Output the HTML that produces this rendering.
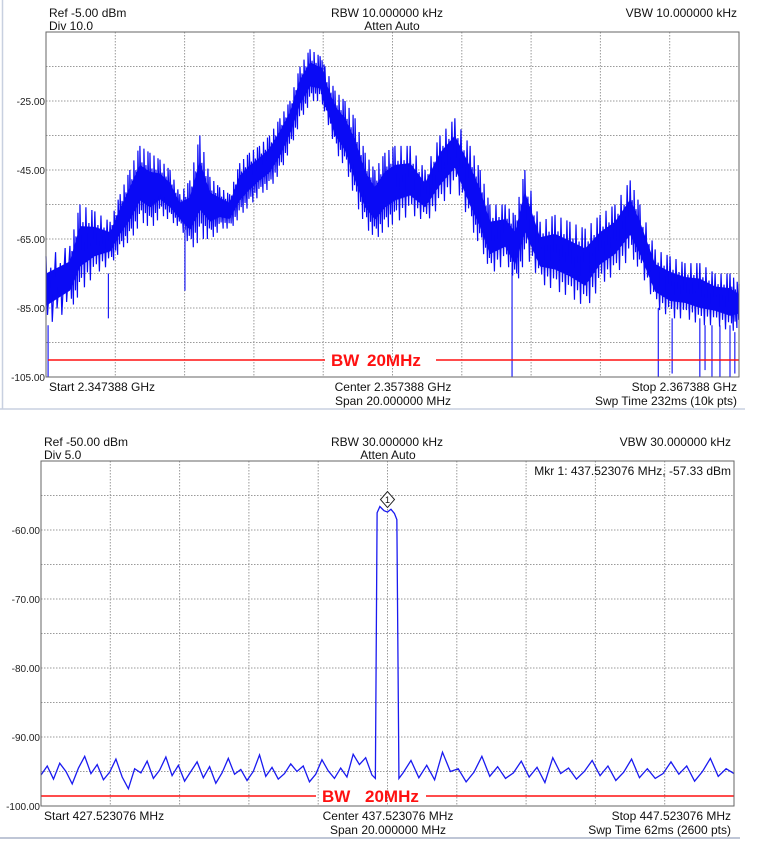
<!DOCTYPE html>
<html><head><meta charset="utf-8">
<style>
html,body{margin:0;padding:0;background:#fff;}
svg{display:block;font-family:"Liberation Sans",Arial,sans-serif;}
</style></head>
<body>
<svg id="root" width="759" height="844" viewBox="0 0 759 844">
  <line x1="2.5" y1="0" x2="2.5" y2="409" stroke="#c8d0e0" stroke-width="1.5"/>
  <line x1="0" y1="409" x2="745" y2="409" stroke="#c8d0e0" stroke-width="1.5"/>
  <line x1="0" y1="838" x2="740" y2="838" stroke="#aab4c8" stroke-width="1.5"/>
  <g id="top"></g>
  <g id="bot"></g>
</svg>
<script>
// ---- Top chart data (freq offset MHz from center, envelope dB) ----
const topFreq  = [-10,-9.31,-9.02,-8.59,-8.15,-7.86,-7.58,-7.29,-7.00,-6.71,-6.42,-6.14,-5.85,-5.56,-5.27,-4.99,-4.70,-4.41,-4.13,-3.84,-3.55,-3.25,-2.96,-2.67,-2.38,-2.09,-1.95,-1.66,-1.37,-1.08,-0.79,-0.51,-0.22,0.07,0.51,0.94,1.37,1.80,2.24,2.53,2.81,3.25,3.54,3.82,4.26,4.69,5.12,5.56,5.99,6.42,6.86,7.14,7.58,8.01,8.44,8.87,9.31,9.74,10];
const topUpper = [-70,-67,-55,-57,-60,-52,-45,-38,-40,-42,-45,-52,-48,-35,-47,-50,-52,-43,-40,-38,-35,-30,-25,-15,-10,-12,-15,-22,-25,-30,-40,-45,-40,-38,-38,-45,-35,-30,-38,-45,-55,-55,-58,-45,-60,-58,-60,-62,-58,-55,-48,-55,-68,-70,-72,-72,-75,-75,-78];
const topLower = [-90,-85,-80,-75,-72,-68,-65,-60,-62,-58,-60,-62,-68,-65,-65,-62,-62,-58,-55,-52,-50,-45,-38,-30,-25,-25,-30,-40,-45,-55,-62,-65,-62,-60,-58,-60,-55,-50,-62,-68,-75,-72,-78,-70,-78,-80,-82,-85,-78,-75,-70,-75,-85,-88,-88,-90,-90,-92,-90];
const topDipFreq = [-9.94,-8.2,-5.99,3.45,7.67,8.07,8.87,9.02,9.22,9.45,9.74,9.88];
const topDipVal  = [-105,-88,-80,-105,-105,-104,-105,-103,-105,-105,-105,-104];
const topYTicks = [-25,-45,-65,-85,-105];
const topYLabels = ["-25.00","-45.00","-65.00","-85.00","-105.00"];

// ---- Bottom chart data ----
const botNoiseFreq = [];
const botNoise = [-95.5,-94.2,-96.1,-93.8,-95.0,-96.8,-94.5,-92.8,-95.3,-94.0,-96.2,-95.1,-93.2,-95.8,-97.5,-94.6,-95.2,-93.5,-96.0,-94.8,-92.9,-95.6,-94.1,-96.4,-95.0,-93.6,-95.9,-94.3,-96.7,-95.2,-93.1,-95.4,-94.7,-96.3,-95.0,-92.6,-95.7,-94.4,-96.1,-95.3,-93.9,-95.0,-94.2,-96.5,-95.4,-93.3,-94.9,-96.0,-94.5,-95.8,-92.5,-94.0,-93.0,-95.5,
  -95.2,-93.4,-95.9,-94.1,-96.2,-92.2,-95.0,-94.6,-96.5,-95.1,-92.8,-95.7,-94.3,-96.0,-95.2,-93.5,-95.8,-94.4,-96.6,-93.0,-95.3,-94.5,-96.1,-95.0,-93.4,-95.6,-94.2,-96.3,-95.1,-93.2,-95.9,-94.6,-96.0,-95.3,-93.6,-95.4,-94.2,-96.4,-95.0,-93.1,-95.7,-94.6,-95.3];
const botPeakFreq = [-0.35,-0.3,-0.22,-0.1,0.0,0.1,0.2,0.27,0.33];
const botPeakVal  = [-96,-57.5,-56.6,-57.2,-57.4,-57.0,-57.6,-58.5,-96];
const botYTicks = [-60,-70,-80,-90,-100];
const botYLabels = ["-60.00","-70.00","-80.00","-90.00","-100.00"];
(function(){const nL=54,nR=botNoise.length-nL;for(let i=0;i<nL;i++)botNoiseFreq.push(-10+i*(9.55/(nL-1)));for(let i=0;i<nR;i++)botNoiseFreq.push(0.45+i*(9.55/(nR-1)));})();

const NS="http://www.w3.org/2000/svg";
function mk(parent,tag,attrs,text){const e=document.createElementNS(NS,tag);for(const k in attrs)e.setAttribute(k,attrs[k]);if(text!==undefined)e.textContent=text;parent.appendChild(e);return e;}

function frame(g,L,T,R,B,yTop,yBot,yTicks,yLabels){
  const sy=v=>T+(yTop-v)/(yTop-yBot)*(B-T);
  for(let i=1;i<10;i++){
    const y=T+i*(B-T)/10;
    const l=mk(g,'line',{x1:L,x2:R,y1:y,y2:y,stroke:'#9a9a9a','stroke-width':1,'stroke-dasharray':'1.5,1.5'});
    
    
    const x=L+i*(R-L)/10;
    const v=mk(g,'line',{x1:x,x2:x,y1:T,y2:B,stroke:'#9a9a9a','stroke-width':1,'stroke-dasharray':'1.5,1.5'});
    
    
  }
  yTicks.forEach((t,i)=>{
    const tx=mk(g,'text',{x:L-1,y:sy(t)+4,'font-size':10,'text-anchor':'end',fill:'#222'},yLabels[i]);
    
    
  });
  return sy;
}
function bwLabel(g,x1,x2,y){
  const a=mk(g,'text',{x:x1,y:y,'font-size':17,'font-weight':'bold',fill:'#ff1010'},'BW');
  
  const b=mk(g,'text',{x:x2,y:y,'font-size':17,'font-weight':'bold',fill:'#ff1010'},'20MHz');
  
}

// ---------- TOP ----------
(function(){
  const g=document.getElementById('top');
  const L=46,R=739,T=32,B=377;
  const sx=f=>L+(f+10)/20*(R-L);
  const sy=frame(g,L,T,R,B,-5,-105,topYTicks,topYLabels);
  const n=topFreq.length;
  let pts=[];
  for(let i=0;i<n;i++){const r=topLower[i]-topUpper[i];pts.push(sx(topFreq[i])+','+sy(topUpper[i]+r*0.25));}
  for(let i=n-1;i>=0;i--){const r=topLower[i]-topUpper[i];pts.push(sx(topFreq[i])+','+sy(topUpper[i]+r*0.72));}
  const band=mk(g,'polygon',{points:pts.join(' '),fill:'#0a0af5'});
  
  
  let z=[];const teeth=5;
  for(let i=0;i<n-1;i++){
    for(let k=0;k<teeth;k++){
      const t=k/teeth;const f=topFreq[i]+(topFreq[i+1]-topFreq[i])*t;
      const up=topUpper[i]+(topUpper[i+1]-topUpper[i])*t, lo=topLower[i]+(topLower[i+1]-topLower[i])*t;
      const r=lo-up;
      const hi=(k%2===0)?up:up+r*0.2, low=(k%2===0)?lo-r*0.15:lo;
      z.push(sx(f)+','+sy(hi));
      z.push((sx(f)+1.5)+','+sy(low));
    }
  }
  z.push(sx(topFreq[n-1])+','+sy(topUpper[n-1]));
  const zz=mk(g,'polyline',{points:z.join(' '),fill:'none',stroke:'#0a0af5','stroke-width':1.2});
  
  
  topDipFreq.forEach((f,i)=>{
    let j=0;while(j<n-1&&topFreq[j+1]<f)j++;
    const d=mk(g,'line',{x1:sx(f),x2:sx(f),y1:sy(topLower[j]),y2:sy(topDipVal[i]),stroke:'#0a0af5','stroke-width':1.1});
    
    
  });
  const rl=mk(g,'line',{x1:L+2,x2:325,y1:360,y2:360,stroke:'#ff1010','stroke-width':1.5});
  
  const rr=mk(g,'line',{x1:436,x2:R,y1:360,y2:360,stroke:'#ff1010','stroke-width':1.5});
  
  bwLabel(g,331,367,366);
  const fr=mk(g,'rect',{x:L,y:T,width:R-L,height:B-T,fill:'none',stroke:'#666','stroke-width':1});
  
  const labels=[[49,17,'start','Ref -5.00 dBm','ref-level'],[49,30,'start','Div 10.0','div-scale'],[387,17,'middle','RBW 10.000000 kHz','rbw'],[392,30,'middle','Atten Auto','atten'],[737,17,'end','VBW 10.000000 kHz','vbw'],
   [49,391,'start','Start 2.347388 GHz','start-freq'],[393,391,'middle','Center 2.357388 GHz','center-freq'],[393,405,'middle','Span 20.000000 MHz','span'],[737,391,'end','Stop 2.367388 GHz','stop-freq'],[737,405,'end','Swp Time 232ms (10k pts)','sweep-time']];
  labels.forEach(a=>{const t=mk(g,'text',{x:a[0],y:a[1],'text-anchor':a[2],'font-size':12,fill:'#111'},a[3]);});
})();

// ---------- BOTTOM ----------
(function(){
  const g=document.getElementById('bot');
  const L=41,R=734,T=461,B=806;
  const sx=f=>L+(f+10)/20*(R-L);
  const sy=frame(g,L,T,R,B,-50,-100,botYTicks,botYLabels);
  const nL=54;
  let a=[];for(let i=0;i<nL;i++)a.push({f:botNoiseFreq[i],v:botNoise[i]});
  botPeakFreq.forEach((f,i)=>a.push({f:f,v:botPeakVal[i]}));
  for(let i=nL;i<botNoise.length;i++)a.push({f:botNoiseFreq[i],v:botNoise[i]});
  const pl=mk(g,'polyline',{points:a.map(p=>sx(p.f)+','+sy(p.v)).join(' '),fill:'none',stroke:'#1a1af0','stroke-width':1.3});
  
  const rl=mk(g,'line',{x1:L,x2:316,y1:796,y2:796,stroke:'#ff1010','stroke-width':1.5});
  
  const rr=mk(g,'line',{x1:426,x2:R,y1:796,y2:796,stroke:'#ff1010','stroke-width':1.5});
  
  bwLabel(g,322,365,802);
  const fr=mk(g,'rect',{x:L,y:T,width:R-L,height:B-T,fill:'none',stroke:'#666','stroke-width':1});
  
  const mx=sx(0),my=sy(-56.6)-7;
  const mkr=mk(g,'polygon',{points:`${mx},${my-8} ${mx+7},${my} ${mx},${my+8} ${mx-7},${my}`,fill:'#fff',stroke:'#222','stroke-width':1});
  
  const mt=mk(g,'text',{x:mx,y:my+3.5,'text-anchor':'middle','font-size':9,fill:'#111'},'1');
  
  const labels=[[44,446,'start','Ref -50.00 dBm','ref-level'],[44,459,'start','Div 5.0','div-scale'],[387,446,'middle','RBW 30.000000 kHz','rbw'],[388,459,'middle','Atten Auto','atten'],[731,446,'end','VBW 30.000000 kHz','vbw'],
   [731,475,'end','Mkr 1: 437.523076 MHz, -57.33 dBm','marker-readout'],
   [44,820,'start','Start 427.523076 MHz','start-freq'],[388,820,'middle','Center 437.523076 MHz','center-freq'],[388,834,'middle','Span 20.000000 MHz','span'],[731,820,'end','Stop 447.523076 MHz','stop-freq'],[731,834,'end','Swp Time 62ms (2600 pts)','sweep-time']];
  labels.forEach(a=>{const t=mk(g,'text',{x:a[0],y:a[1],'text-anchor':a[2],'font-size':12,fill:'#111'},a[3]);});
})();
</script>
</body></html>
